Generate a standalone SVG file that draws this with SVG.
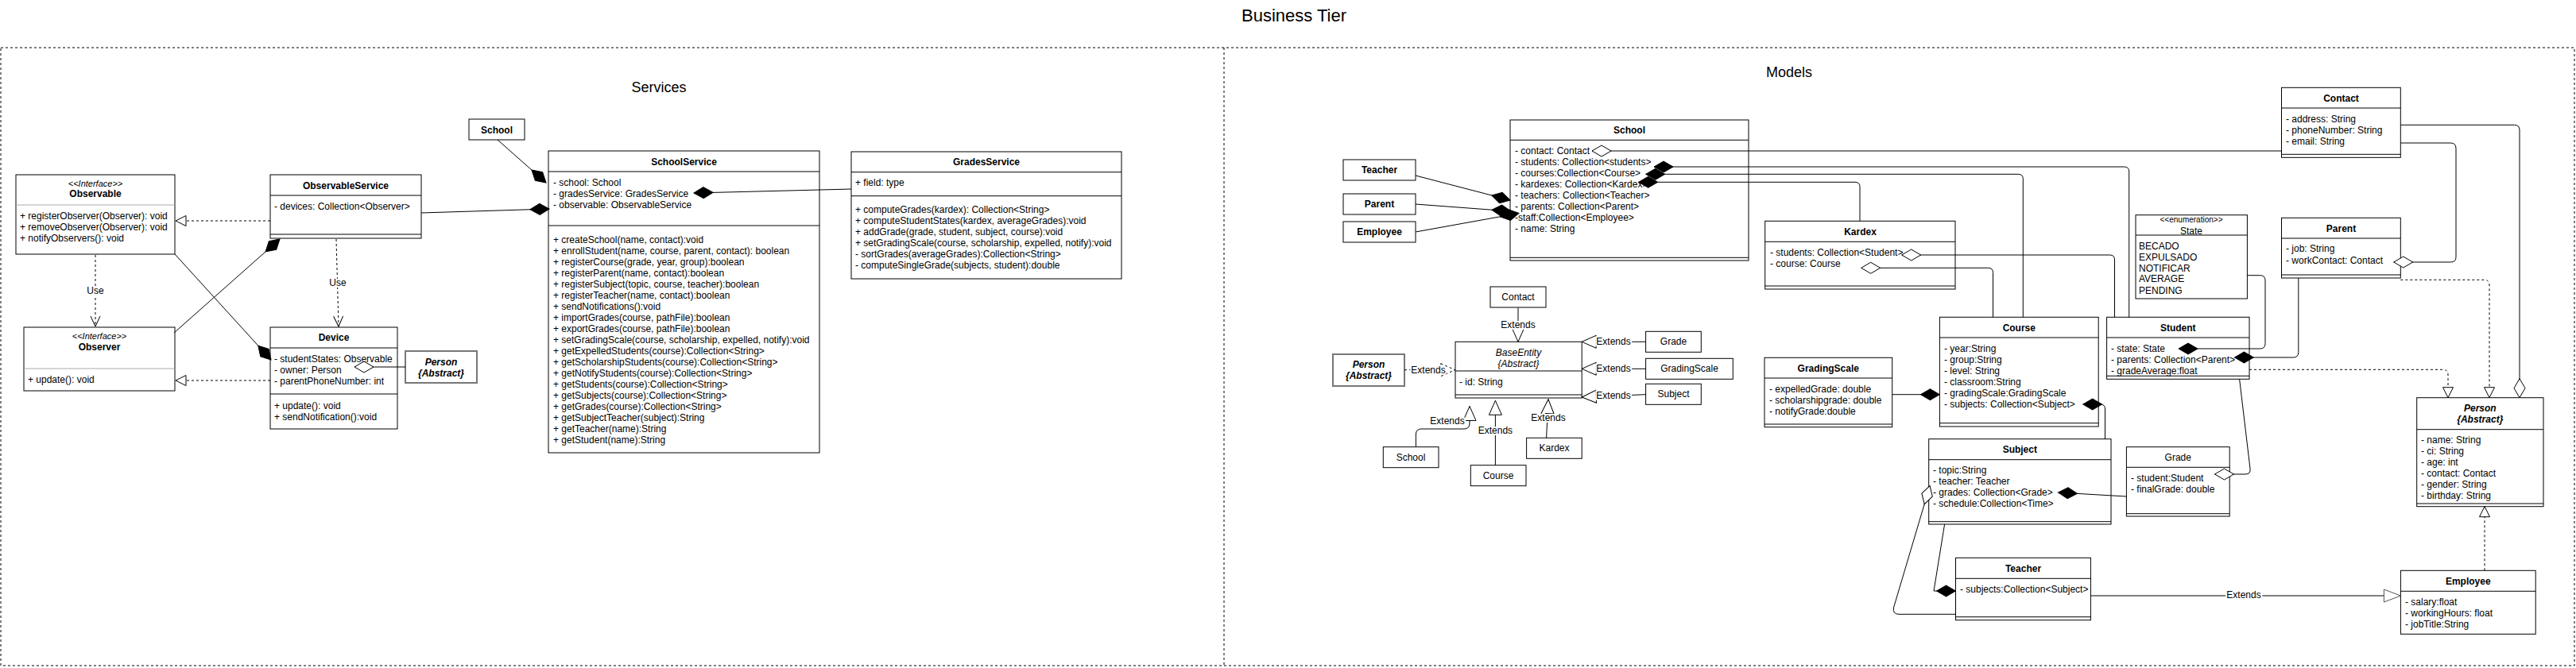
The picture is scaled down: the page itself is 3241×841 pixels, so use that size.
<svg xmlns="http://www.w3.org/2000/svg" width="3241" height="841" viewBox="0 0 3241 841">
<style>
text{font-family:"Liberation Sans",Arial,Helvetica,sans-serif;font-size:12px;fill:#000}
.b{font-weight:bold;text-anchor:middle}
.c{text-anchor:middle}
.i{font-style:italic}
.box{fill:#fff;stroke:#000;stroke-width:1}
.gb{fill:#fff;stroke:#777;stroke-width:2}
.sep{stroke:#000;stroke-width:1}
.gsep{stroke:#aaa;stroke-width:1}
.ln{fill:none;stroke:#000;stroke-width:1}
.ds{stroke-dasharray:3 3}
.lbl{text-anchor:middle;paint-order:stroke;stroke:#fff;stroke-width:4px;stroke-linejoin:round}
</style>
<defs>
<marker id="dF" markerUnits="userSpaceOnUse" markerWidth="26" markerHeight="16" refX="24" refY="7" orient="auto" overflow="visible"><path d="M0,7 L12,0 L24,7 L12,14 Z" fill="#000" stroke="#000"/></marker>
<marker id="dH" markerUnits="userSpaceOnUse" markerWidth="26" markerHeight="16" refX="24" refY="7" orient="auto" overflow="visible"><path d="M0,7 L12,0 L24,7 L12,14 Z" fill="#fff" stroke="#000"/></marker>
<marker id="tS" markerUnits="userSpaceOnUse" markerWidth="16" markerHeight="16" refX="13" refY="6.5" orient="auto" overflow="visible"><path d="M0,0 L13,6.5 L0,13 Z" fill="#fff" stroke="#000"/></marker>
<marker id="tL" markerUnits="userSpaceOnUse" markerWidth="20" markerHeight="18" refX="18" refY="8" orient="auto" overflow="visible"><path d="M0,0 L18,8 L0,16 Z" fill="#fff" stroke="#000"/></marker>
<marker id="tLd" markerUnits="userSpaceOnUse" markerWidth="20" markerHeight="18" refX="18" refY="8" orient="auto" overflow="visible"><path d="M0,0 L18,8 L0,16 Z" fill="#fff" stroke="#000" stroke-dasharray="3 3"/></marker>
<marker id="tX" markerUnits="userSpaceOnUse" markerWidth="24" markerHeight="18" refX="21" refY="8" orient="auto" overflow="visible"><path d="M0,0 L21,8 L0,16 Z" fill="#fff" stroke="#555"/></marker>
<marker id="v" markerUnits="userSpaceOnUse" markerWidth="14" markerHeight="14" refX="13" refY="6" orient="auto" overflow="visible"><path d="M0,0 L13,6 L0,12" fill="none" stroke="#000"/></marker>
</defs>
<rect x="0" y="0" width="3241" height="841" fill="#fff"/>

<g id="frame">
<rect x="1" y="60" width="3238" height="778" fill="none" stroke="#000" stroke-dasharray="3 3"/>
<line x1="1540" y1="60" x2="1540" y2="838" stroke="#000" stroke-dasharray="3 3"/>
<text x="1628" y="27" class="c" style="font-size:22px">Business Tier</text>
<text x="829" y="116" class="c" style="font-size:18px">Services</text>
<text x="2251" y="97" class="c" style="font-size:18px">Models</text>
</g>

<!-- ============ Services nodes ============ -->
<g id="observable">
<rect class="box" x="20" y="220" width="200" height="100"/>
<line class="gsep" x1="20" y1="258" x2="220" y2="258"/>
<text x="120" y="234.5" class="c i" style="font-size:11px">&lt;&lt;Interface&gt;&gt;</text>
<text x="120" y="248" class="b">Observable</text>
<text x="25" y="275.7">+ registerObserver(Observer): void</text>
<text x="25" y="290">+ removeObserver(Observer): void</text>
<text x="25" y="304">+ notifyObservers(): void</text>
</g>
<g id="observer">
<rect class="box" x="30" y="412" width="190" height="80"/>
<line class="gsep" x1="30" y1="464" x2="220" y2="464"/>
<text x="125" y="427" class="c i" style="font-size:11px">&lt;&lt;Interface&gt;&gt;</text>
<text x="125" y="441" class="b">Observer</text>
<text x="35" y="482">+ update(): void</text>
</g>
<g id="observableService">
<rect class="box" x="340" y="220" width="190" height="80"/>
<line class="sep" x1="340" y1="246" x2="530" y2="246"/>
<line class="sep" x1="340" y1="295" x2="530" y2="295"/>
<text x="435" y="238" class="b">ObservableService</text>
<text x="345" y="264">- devices: Collection&lt;Observer&gt;</text>
</g>
<g id="device">
<rect class="box" x="340" y="412" width="160" height="128"/>
<line class="sep" x1="340" y1="438" x2="500" y2="438"/>
<line class="sep" x1="340" y1="496" x2="500" y2="496"/>
<text x="420" y="429" class="b">Device</text>
<text x="345" y="456">- studentStates: Observable</text>
<text x="345" y="470">- owner: Person</text>
<text x="345" y="484">- parentPhoneNumber: int</text>
<text x="345" y="514.5">+ update(): void</text>
<text x="345" y="528.5">+ sendNotification():void</text>
</g>
<g id="personServices">
<rect class="gb" x="510" y="442" width="90" height="40"/>
<text x="555" y="460" class="b i">Person</text>
<text x="555" y="474" class="b i">{Abstract}</text>
</g>
<g id="schoolRef">
<rect class="box" x="590" y="150" width="70" height="26"/>
<text x="625" y="167.7" class="b">School</text>
</g>
<g id="schoolService">
<rect class="box" x="690" y="190" width="341" height="380"/>
<line class="sep" x1="690" y1="216" x2="1031" y2="216"/>
<line class="sep" x1="690" y1="284" x2="1031" y2="284"/>
<text x="860.5" y="207.7" class="b">SchoolService</text>
<text x="696" y="233.7">- school: School</text>
<text x="696" y="247.7">- gradesService: GradesService</text>
<text x="696" y="261.7">- observable: ObservableService</text>
<text x="696" y="306">+ createSchool(name, contact):void</text>
<text x="696" y="320">+ enrollStudent(name, course, parent, contact): boolean</text>
<text x="696" y="334">+ registerCourse(grade, year, group):boolean</text>
<text x="696" y="348">+ registerParent(name, contact):boolean</text>
<text x="696" y="362">+ registerSubject(topic, course, teacher):boolean</text>
<text x="696" y="376">+ registerTeacher(name, contact):boolean</text>
<text x="696" y="390">+ sendNotifications():void</text>
<text x="696" y="404">+ importGrades(course, pathFile):boolean</text>
<text x="696" y="418">+ exportGrades(course, pathFile):boolean</text>
<text x="696" y="432">+ setGradingScale(course, scholarship, expelled, notify):void</text>
<text x="696" y="446">+ getExpelledStudents(course):Collection&lt;String&gt;</text>
<text x="696" y="460">+ getScholarshipStudents(course):Collection&lt;String&gt;</text>
<text x="696" y="474">+ getNotifyStudents(course):Collection&lt;String&gt;</text>
<text x="696" y="488">+ getStudents(course):Collection&lt;String&gt;</text>
<text x="696" y="502">+ getSubjects(course):Collection&lt;String&gt;</text>
<text x="696" y="516">+ getGrades(course):Collection&lt;String&gt;</text>
<text x="696" y="530">+ getSubjectTeacher(subject):String</text>
<text x="696" y="544">+ getTeacher(name):String</text>
<text x="696" y="558">+ getStudent(name):String</text>
</g>
<g id="gradesService">
<rect class="box" x="1071" y="191" width="340" height="160"/>
<line class="sep" x1="1071" y1="216.7" x2="1411" y2="216.7"/>
<line class="sep" x1="1071" y1="246.7" x2="1411" y2="246.7"/>
<text x="1241" y="207.7" class="b">GradesService</text>
<text x="1076" y="234">+ field: type</text>
<text x="1076" y="268.3">+ computeGrades(kardex): Collection&lt;String&gt;</text>
<text x="1076" y="282.3">+ computeStudentStates(kardex, averageGrades):void</text>
<text x="1076" y="296.3">+ addGrade(grade, student, subject, course):void</text>
<text x="1076" y="310">+ setGradingScale(course, scholarship, expelled, notify):void</text>
<text x="1076" y="324">- sortGrades(averageGrades):Collection&lt;String&gt;</text>
<text x="1076" y="338">- computeSingleGrade(subjects, student):double</text>
</g>

<!-- ============ Models nodes ============ -->
<g id="school">
<rect class="box" x="1900" y="151" width="300" height="177"/>
<line class="sep" x1="1900" y1="176.3" x2="2200" y2="176.3"/>
<line class="sep" x1="1900" y1="324.3" x2="2200" y2="324.3"/>
<text x="2050" y="167.7" class="b">School</text>
<text x="1906" y="194.3">- contact: Contact</text>
<text x="1906" y="208.2">- students: Collection&lt;students&gt;</text>
<text x="1906" y="222.1">- courses:Collection&lt;Course&gt;</text>
<text x="1906" y="236">- kardexes: Collection&lt;Kardex&gt;</text>
<text x="1906" y="249.9">- teachers: Collection&lt;Teacher&gt;</text>
<text x="1906" y="263.8">- parents: Collection&lt;Parent&gt;</text>
<text x="1906" y="277.7">-staff:Collection&lt;Employee&gt;</text>
<text x="1906" y="291.6">- name: String</text>
</g>
<g id="teacherRef">
<rect class="box" x="1690" y="201" width="91" height="26"/>
<text x="1735.5" y="218" class="b">Teacher</text>
</g>
<g id="parentRef">
<rect class="box" x="1690" y="244" width="91" height="26"/>
<text x="1735.5" y="261.3" class="b">Parent</text>
</g>
<g id="employeeRef">
<rect class="box" x="1690" y="279" width="91" height="26"/>
<text x="1735.5" y="296" class="b">Employee</text>
</g>
<g id="contactRef">
<rect class="box" x="1875" y="361" width="70" height="26"/>
<text x="1910" y="378.3" class="c">Contact</text>
</g>
<g id="baseEntity">
<rect class="box" x="1831" y="430.3" width="159.2" height="70.7"/>
<line class="sep" x1="1831" y1="467" x2="1990.2" y2="467"/>
<line class="sep" x1="1831" y1="497" x2="1990.2" y2="497"/>
<text x="1910.5" y="448" class="c i">BaseEntity</text>
<text x="1910.5" y="461.7" class="c i">{Abstract}</text>
<text x="1836" y="485">- id: String</text>
</g>
<g id="personRef">
<rect class="gb" x="1677" y="446" width="90" height="40"/>
<text x="1722" y="463.3" class="b i">Person</text>
<text x="1722" y="477.3" class="b i">{Abstract}</text>
</g>
<g id="gradeRef">
<rect class="box" x="2070.6" y="417.3" width="69.7" height="26"/>
<text x="2105.5" y="434.3" class="c">Grade</text>
</g>
<g id="gradingScaleRef">
<rect class="box" x="2070.6" y="451.3" width="109.7" height="26"/>
<text x="2125.5" y="468.3" class="c">GradingScale</text>
</g>
<g id="subjectRef">
<rect class="box" x="2070.6" y="483.3" width="69.7" height="26"/>
<text x="2105.5" y="500.3" class="c">Subject</text>
</g>
<g id="schoolRef2">
<rect class="box" x="1740.3" y="562.7" width="69.7" height="26"/>
<text x="1775" y="580" class="c">School</text>
</g>
<g id="courseRef">
<rect class="box" x="1850.3" y="585.7" width="69.7" height="26"/>
<text x="1885" y="603" class="c">Course</text>
</g>
<g id="kardexRef">
<rect class="box" x="1920.6" y="551.3" width="69.6" height="26"/>
<text x="1955.5" y="568.3" class="c">Kardex</text>
</g>
<g id="kardex">
<rect class="box" x="2220.7" y="278.3" width="239.3" height="85.7"/>
<line class="sep" x1="2220.7" y1="304.3" x2="2460" y2="304.3"/>
<line class="sep" x1="2220.7" y1="360" x2="2460" y2="360"/>
<text x="2340.5" y="296" class="b">Kardex</text>
<text x="2227" y="321.7">- students: Collection&lt;Student&gt;</text>
<text x="2227" y="335.7">- course: Course</text>
</g>
<g id="contact">
<rect class="box" x="2870.5" y="110.3" width="149.8" height="88"/>
<line class="sep" x1="2870.5" y1="136" x2="3020.3" y2="136"/>
<line class="sep" x1="2870.5" y1="194.3" x2="3020.3" y2="194.3"/>
<text x="2945.5" y="127.7" class="b">Contact</text>
<text x="2876" y="153.7">- address: String</text>
<text x="2876" y="167.7">- phoneNumber: String</text>
<text x="2876" y="181.7">- email: String</text>
</g>
<g id="state">
<rect class="box" x="2687" y="270.7" width="140.4" height="105.3"/>
<line class="sep" x1="2687" y1="296" x2="2827.4" y2="296"/>
<text x="2757" y="280" class="c" style="font-size:10px">&lt;&lt;enumeration&gt;&gt;</text>
<text x="2757" y="294.5" class="c">State</text>
<text x="2691" y="313.7">BECADO</text>
<text x="2691" y="327.7">EXPULSADO</text>
<text x="2691" y="341.7">NOTIFICAR</text>
<text x="2691" y="355.2">AVERAGE</text>
<text x="2691" y="369.7">PENDING</text>
</g>
<g id="parent">
<rect class="box" x="2870.5" y="274.3" width="149.8" height="75.7"/>
<line class="sep" x1="2870.5" y1="300" x2="3020.3" y2="300"/>
<line class="sep" x1="2870.5" y1="346" x2="3020.3" y2="346"/>
<text x="2945.5" y="291.7" class="b">Parent</text>
<text x="2876" y="317.3">- job: String</text>
<text x="2876" y="331.7">- workContact: Contact</text>
</g>
<g id="course">
<rect class="box" x="2440.4" y="399.3" width="199.8" height="137.7"/>
<line class="sep" x1="2440.4" y1="425" x2="2640.2" y2="425"/>
<line class="sep" x1="2440.4" y1="532.7" x2="2640.2" y2="532.7"/>
<text x="2540.3" y="416.7" class="b">Course</text>
<text x="2446" y="443">- year:String</text>
<text x="2446" y="457">- group:String</text>
<text x="2446" y="471">- level: String</text>
<text x="2446" y="485">- classroom:String</text>
<text x="2446" y="499">- gradingScale:GradingScale</text>
<text x="2446" y="513">- subjects: Collection&lt;Subject&gt;</text>
</g>
<g id="student">
<rect class="box" x="2650.6" y="399.3" width="179.4" height="78"/>
<line class="sep" x1="2650.6" y1="425" x2="2830" y2="425"/>
<line class="sep" x1="2650.6" y1="473.3" x2="2830" y2="473.3"/>
<text x="2740.3" y="416.7" class="b">Student</text>
<text x="2656" y="443">- state: State</text>
<text x="2656" y="457">- parents: Collection&lt;Parent&gt;</text>
<text x="2656" y="471">- gradeAverage:float</text>
</g>
<g id="gradingScale">
<rect class="box" x="2220" y="450.3" width="160.7" height="87.4"/>
<line class="sep" x1="2220" y1="476" x2="2380.7" y2="476"/>
<line class="sep" x1="2220" y1="534" x2="2380.7" y2="534"/>
<text x="2300.3" y="467.7" class="b">GradingScale</text>
<text x="2226" y="493.7">- expelledGrade: double</text>
<text x="2226" y="507.7">- scholarshipgrade: double</text>
<text x="2226" y="521.7">- notifyGrade:double</text>
</g>
<g id="subject">
<rect class="box" x="2426.7" y="552.7" width="229.3" height="107.3"/>
<line class="sep" x1="2426.7" y1="578.7" x2="2656" y2="578.7"/>
<line class="sep" x1="2426.7" y1="656.7" x2="2656" y2="656.7"/>
<text x="2541.3" y="569.7" class="b">Subject</text>
<text x="2432" y="595.7">- topic:String</text>
<text x="2432" y="609.7">- teacher: Teacher</text>
<text x="2432" y="623.7">- grades: Collection&lt;Grade&gt;</text>
<text x="2432" y="637.7">- schedule:Collection&lt;Time&gt;</text>
</g>
<g id="grade">
<rect class="box" x="2675.4" y="562.7" width="129.8" height="87.3"/>
<line class="sep" x1="2675.4" y1="588.3" x2="2805.2" y2="588.3"/>
<line class="sep" x1="2675.4" y1="646.7" x2="2805.2" y2="646.7"/>
<text x="2740.3" y="579.7" class="c">Grade</text>
<text x="2681" y="605.7">- student:Student</text>
<text x="2681" y="619.7">- finalGrade: double</text>
</g>
<g id="teacher">
<rect class="box" x="2460.5" y="702.3" width="169.9" height="78.4"/>
<line class="sep" x1="2460.5" y1="728.3" x2="2630.4" y2="728.3"/>
<line class="sep" x1="2460.5" y1="776.7" x2="2630.4" y2="776.7"/>
<text x="2545.5" y="719.7" class="b">Teacher</text>
<text x="2466" y="746">- subjects:Collection&lt;Subject&gt;</text>
</g>
<g id="employee">
<rect class="box" x="3020.4" y="718.3" width="169.8" height="80"/>
<line class="sep" x1="3020.4" y1="744.3" x2="3190.2" y2="744.3"/>
<text x="3105.3" y="735.7" class="b">Employee</text>
<text x="3026" y="762">- salary:float</text>
<text x="3026" y="776">- workingHours: float</text>
<text x="3026" y="790">- jobTitle:String</text>
</g>
<g id="person">
<rect class="box" x="3040.7" y="500.7" width="159.3" height="137"/>
<line class="sep" x1="3040.7" y1="540.7" x2="3200" y2="540.7"/>
<line class="sep" x1="3040.7" y1="634" x2="3200" y2="634"/>
<text x="3120.3" y="517.7" class="b i">Person</text>
<text x="3120.3" y="531.7" class="b i">{Abstract}</text>
<text x="3046" y="557.7">- name: String</text>
<text x="3046" y="571.7">- ci: String</text>
<text x="3046" y="585.7">- age: int</text>
<text x="3046" y="599.7">- contact: Contact</text>
<text x="3046" y="613.7">- gender: String</text>
<text x="3046" y="627.7">- birthday: String</text>
</g>

<g id="connectors">
<!-- Services -->
<path class="ln ds" d="M340,278 L221,278" marker-end="url(#tS)"/>
<path class="ln ds" d="M340,479 L221,479" marker-end="url(#tS)"/>
<path class="ln ds" d="M120,321 L120,411" marker-end="url(#v)"/>
<text x="120" y="370" class="lbl">Use</text>
<path class="ln ds" d="M423,301 L426,411" marker-end="url(#v)"/>
<text x="425" y="360" class="lbl">Use</text>
<path class="ln" d="M220,320 L341,453" marker-end="url(#dF)"/>
<path class="ln" d="M219,419 L352,301" marker-end="url(#dF)"/>
<path class="ln" d="M510,462 L446,462" stroke="#777" marker-end="url(#dH)"/>
<path class="ln" d="M530,268 L691,263" marker-end="url(#dF)"/>
<path class="ln" d="M626,176 L687,230" marker-end="url(#dF)"/>
<path class="ln" d="M1071,238 L873,243" marker-end="url(#dF)"/>
<!-- Models: School -->
<path class="ln" d="M1781,221 L1900,252" marker-end="url(#dF)"/>
<path class="ln" d="M1781,257 L1901,266" marker-end="url(#dF)"/>
<path class="ln" d="M1781,292 L1911,268.5" marker-end="url(#dF)"/>
<path class="ln" d="M2870.5,190 L2003,190" marker-end="url(#dH)"/>
<path class="ln" d="M2678.7,399.3 L2678.7,216 Q2678.7,210 2672.7,210 L2081,210" marker-end="url(#dF)"/>
<path class="ln" d="M2545.3,399.3 L2545.3,225.3 Q2545.3,219.3 2539.3,219.3 L2070.7,219.3" marker-end="url(#dF)"/>
<path class="ln" d="M2340,278.3 L2340,235.3 Q2340,229.3 2334,229.3 L2061.7,229.3" marker-end="url(#dF)"/>
<path class="ln" d="M2660.5,399.3 L2660.5,327 Q2660.5,321 2654.5,321 L2392.7,321" marker-end="url(#dH)"/>
<path class="ln" d="M2507.5,399.3 L2507.5,343.3 Q2507.5,337.3 2501.5,337.3 L2341.7,337.3" marker-end="url(#dH)"/>
<!-- BaseEntity extends -->
<path class="ln" d="M1910,387.3 L1910,430.3" marker-end="url(#tL)"/>
<text x="1910" y="413.3" class="lbl">Extends</text>
<path class="ln ds" d="M1767,465.7 L1830.7,465.7" marker-end="url(#tLd)"/>
<text x="1797" y="469.7" class="lbl">Extends</text>
<path class="ln" d="M2070.6,430.3 L1990.2,430.3" marker-end="url(#tL)"/>
<text x="2030" y="434.3" class="lbl">Extends</text>
<path class="ln" d="M2070.6,464.3 L1990.2,464.3" marker-end="url(#tL)"/>
<text x="2030" y="468.3" class="lbl">Extends</text>
<path class="ln" d="M2070.6,496.7 L1990.2,500" marker-end="url(#tL)"/>
<text x="2030" y="502" class="lbl">Extends</text>
<path class="ln" d="M1781.4,562.7 L1781.4,547 Q1781.4,540 1788.4,540 L1842,540 Q1849,540 1849,533 L1849,511.5" marker-end="url(#tL)"/>
<text x="1821" y="534" class="lbl">Extends</text>
<path class="ln" d="M1881.4,585.7 L1881.4,504.3" marker-end="url(#tL)"/>
<text x="1881.4" y="546" class="lbl">Extends</text>
<path class="ln" d="M1945.6,551.3 L1948,502.7" marker-end="url(#tL)"/>
<text x="1948" y="529.7" class="lbl">Extends</text>
<!-- Models right side -->
<path class="ln" d="M2380.7,496.7 L2440.4,496.7" marker-end="url(#dF)"/>
<path class="ln" d="M2648.5,552.7 L2648.5,515 Q2648.5,509 2642.5,509 L2620.7,509" marker-end="url(#dF)"/>
<path class="ln" d="M2675.4,625 L2589.6,620" marker-end="url(#dF)"/>
<path class="ln" d="M2817.6,477.3 L2831,590 Q2832,597 2825,597 L2786.5,597" marker-end="url(#dH)"/>
<path class="ln" d="M2827.4,346.7 L2843.5,346.7 Q2850,346.7 2850,353 L2850,432.5 Q2850,439 2843.5,439 L2741,439" marker-end="url(#dF)"/>
<path class="ln" d="M2891.8,350 L2891.8,443.5 Q2891.8,450 2885.3,450 L2811.4,450" marker-end="url(#dF)"/>
<path class="ln ds" d="M2830,465.3 L3073.5,465.3 Q3080,465.3 3080,472 L3080,500.7" marker-end="url(#tS)"/>
<path class="ln ds" d="M3020.3,352.3 L3125.5,352.3 Q3132,352.3 3132,359 L3132,500.7" marker-end="url(#tS)"/>
<path class="ln" d="M3020.3,157.3 L3163.5,157.3 Q3170,157.3 3170,164 L3170,500.7" marker-end="url(#dH)"/>
<path class="ln" d="M3020.3,180 L3083.5,180 Q3090,180 3090,187 L3090,323.5 Q3090,330 3083.5,330 L3011.7,330" marker-end="url(#dH)"/>
<path class="ln" d="M2460.5,773.3 L2389,773.3 Q2381,773.3 2382.5,765 L2428,611.7" marker-end="url(#dH)"/>
<path class="ln" d="M2446.6,660 L2433,744 L2460.5,744" marker-end="url(#dF)"/>
<path class="ln" d="M2630.4,750 L3020.4,750" stroke="#555" stroke-width="1.5" marker-end="url(#tX)"/>
<text x="2823" y="753" class="lbl">Extends</text>
<path class="ln ds" d="M3126,718.3 L3126,637.7" marker-end="url(#tS)"/>
</g>
</svg>
